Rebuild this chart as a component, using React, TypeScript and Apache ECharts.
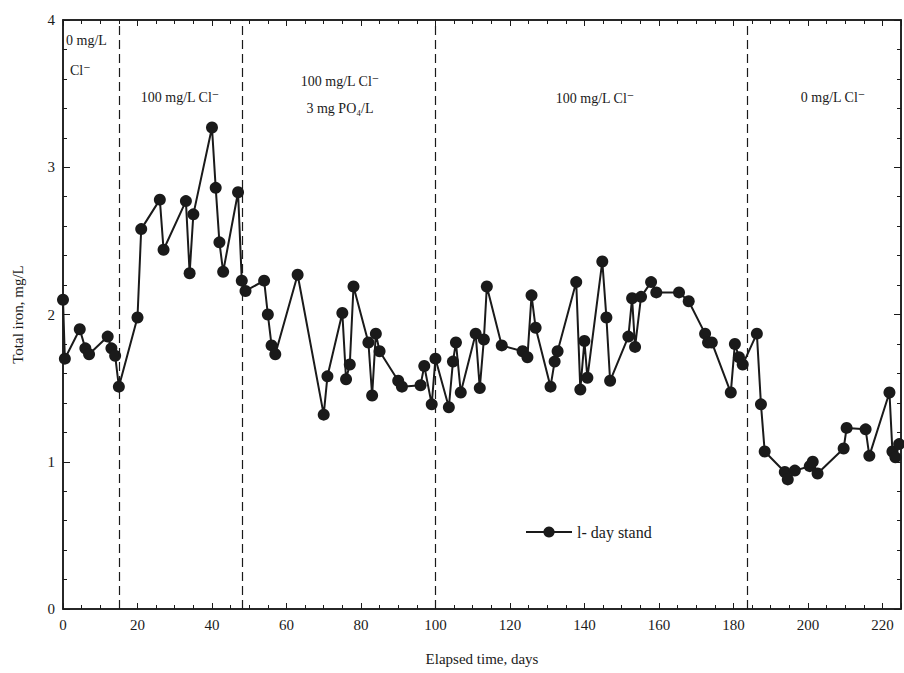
import React, { useEffect, useRef } from "react";
import * as echarts from "echarts";

const days = [0,0.5,4.5,6,7,12,13,14,15,20,21,26,27,33,34,35,40,41,42,43,47,48,49,54,55,56,57,63,70,71,75,76,77,78,82,83,84,85,90,91,96,97,99,100,103.6,104.7,105.5,106.8,110.8,111.9,113,113.8,117.8,123.4,124.7,125.8,126.9,130.9,132,132.8,137.8,138.9,140,140.8,144.8,145.9,146.9,151.8,152.8,153.6,155.2,157.9,159.3,165.4,168,172.4,173.2,174.2,179.3,180.4,181.5,182.5,186.3,187.4,188.4,193.8,194.6,196.5,200.5,201.3,202.6,209.6,210.4,215.5,216.5,221.9,222.7,223.5,224.5];
const iron = [2.10,1.70,1.90,1.77,1.73,1.85,1.77,1.72,1.51,1.98,2.58,2.78,2.44,2.77,2.28,2.68,3.27,2.86,2.49,2.29,2.83,2.23,2.16,2.23,2.00,1.79,1.73,2.27,1.32,1.58,2.01,1.56,1.66,2.19,1.81,1.45,1.87,1.75,1.55,1.51,1.52,1.65,1.39,1.70,1.37,1.68,1.81,1.47,1.87,1.50,1.83,2.19,1.79,1.75,1.71,2.13,1.91,1.51,1.68,1.75,2.22,1.49,1.82,1.57,2.36,1.98,1.55,1.85,2.11,1.78,2.12,2.22,2.15,2.15,2.09,1.87,1.81,1.81,1.47,1.80,1.71,1.66,1.87,1.39,1.07,0.93,0.88,0.94,0.97,1.00,0.92,1.09,1.23,1.22,1.04,1.47,1.07,1.03,1.12];
const phaseBoundaries = [15, 48, 100, 183.7];
const xTicks = [0,20,40,60,80,100,120,140,160,180,200,220];

const font = "'Liberation Serif', 'DejaVu Serif', serif";

export default function App() {
  const ref = useRef<HTMLDivElement>(null);
  useEffect(() => {
    const chart = echarts.init(ref.current!, null, { renderer: "svg" });
    const ink = "#1a1a1a";
    const txt = (x: number, y: number, s: string, align = "center") => ({
      type: "text", x, y,
      style: { text: s, fill: ink, font: `14px ${font}`, textAlign: align, textVerticalAlign: "middle" },
    });
    const xCommon = {
      type: "value", min: 0, max: 225, interval: 20,
      axisTick: { show: true, inside: true, length: 6, lineStyle: { color: ink } },
      minorTick: { show: true, splitNumber: 4, length: 4, lineStyle: { color: ink } },
      splitLine: { show: false },
    };
    const yCommon = {
      type: "value", min: 0, max: 4, interval: 1,
      axisTick: { show: true, inside: true, length: 7, lineStyle: { color: ink } },
      minorTick: { show: true, splitNumber: 5, length: 4, lineStyle: { color: ink } },
      splitLine: { show: false },
    };
    chart.setOption({
      animation: false,
      backgroundColor: "#fff",
      textStyle: { fontFamily: font, color: ink },
      grid: { left: 63, right: 1, top: 20, bottom: 64, show: true, borderColor: ink, borderWidth: 1.5, backgroundColor: "transparent" },
      legend: {
        left: 520, top: 519, itemWidth: 46, itemHeight: 14,
        textStyle: { fontSize: 16, fontFamily: font, color: ink },
        data: ["l- day stand"],
      },
      xAxis: [
        {
          ...xCommon,
          axisLine: { show: true, onZero: false, lineStyle: { color: ink, width: 1.5 } },
          axisLabel: { fontSize: 15, color: ink, fontFamily: font, formatter: (v: number) => (xTicks.includes(v) ? String(v) : "") },
          name: "Elapsed time, days", nameLocation: "middle", nameGap: 42,
          nameTextStyle: { fontSize: 15, color: ink, fontFamily: font },
        },
        {
          ...xCommon, position: "top",
          axisLine: { show: true, onZero: false, lineStyle: { color: ink, width: 1.5 } },
          axisLabel: { show: false },
        },
      ],
      yAxis: [
        {
          ...yCommon,
          axisLine: { show: true, onZero: false, lineStyle: { color: ink, width: 1.5 } },
          axisLabel: { fontSize: 15, color: ink, fontFamily: font },
          name: "Total iron, mg/L", nameLocation: "middle", nameGap: 38,
          nameTextStyle: { fontSize: 15, color: ink, fontFamily: font },
        },
        {
          ...yCommon, position: "right",
          axisLine: { show: true, onZero: false, lineStyle: { color: ink, width: 1.5 } },
          axisLabel: { show: false },
        },
      ],
      graphic: [
        txt(66, 40, "0 mg/L", "left"),
        txt(70, 70, "Cl⁻", "left"),
        txt(180, 97, "100 mg/L Cl⁻"),
        txt(340, 81, "100 mg/L Cl⁻"),
        txt(340, 108, "3 mg PO₄/L"),
        txt(595, 98, "100 mg/L Cl⁻"),
        txt(833, 97, "0 mg/L Cl⁻"),
      ],
      series: [
        {
          name: "l- day stand", type: "line",
          data: days.map((d, i) => [d, iron[i]]),
          symbol: "circle", symbolSize: 12,
          itemStyle: { color: ink },
          lineStyle: { color: ink, width: 2 },
          markLine: {
            silent: true, symbol: "none", label: { show: false },
            lineStyle: { color: ink, type: [9, 5], width: 1.2 },
            data: phaseBoundaries.map((x) => ({ xAxis: x })),
          },
        },
      ],
    });
    return () => chart.dispose();
  }, []);
  return <div ref={ref} style={{ position: "absolute", left: 0, top: 0, width: 904, height: 673 }} />;
}
